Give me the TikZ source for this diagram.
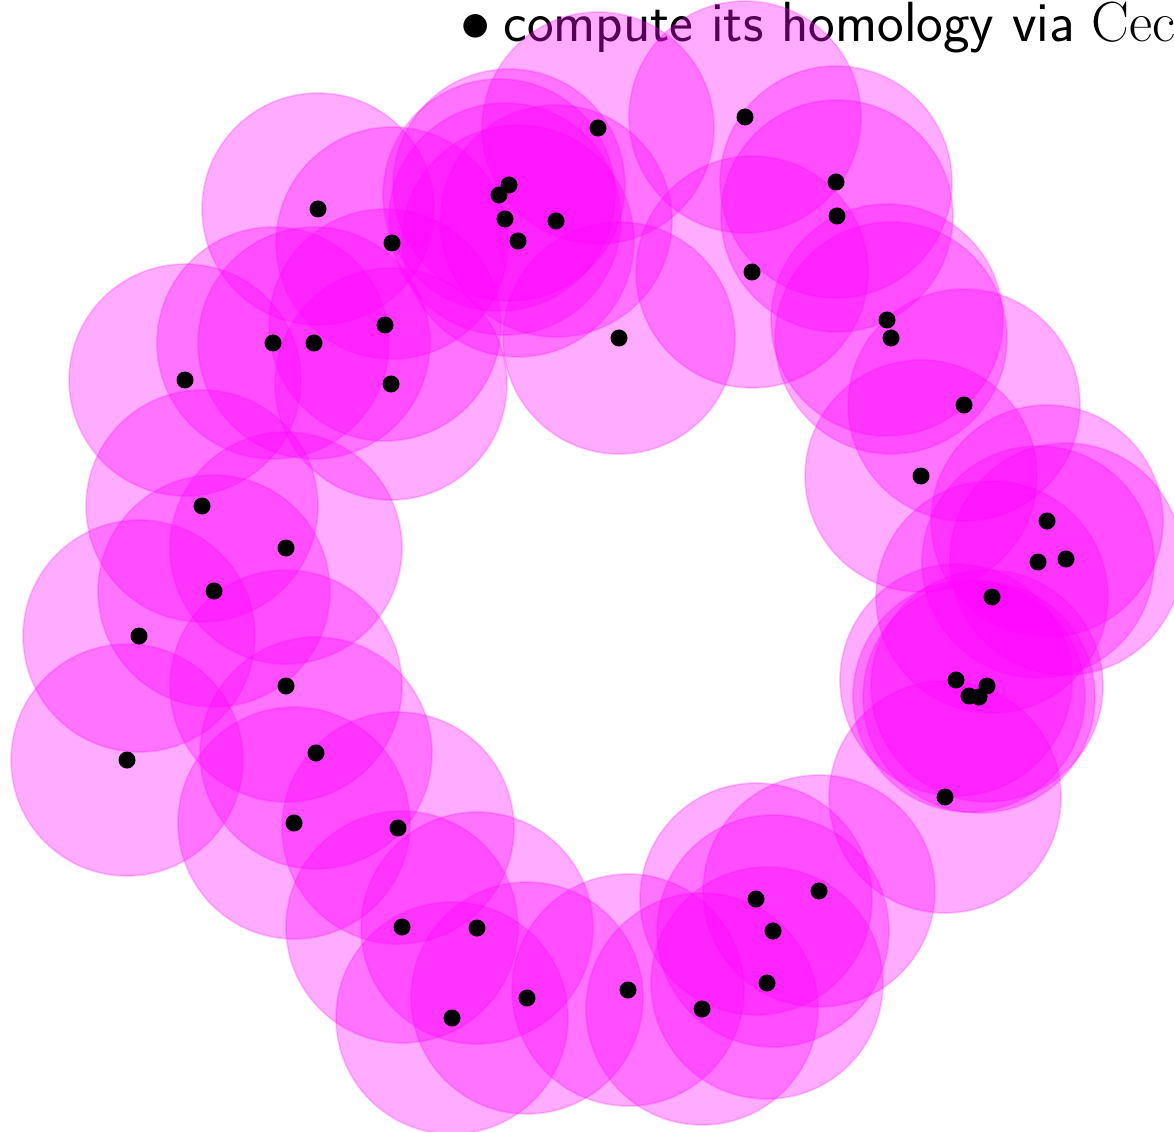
\documentclass[tikz,border=0pt]{standalone}
\definecolor{mag}{RGB}{255,0,255}
\begin{document}
\begin{tikzpicture}[x=0.01cm,y=-0.01cm,
  ball/.style={fill=mag,fill opacity=0.33,draw=mag,draw opacity=0.2,line width=0.5pt},
  pt/.style={fill=black}]
\useasboundingbox (0,0) rectangle (1174,1131);
\clip (0,0) rectangle (1174,1131);
\node[anchor=base west,inner sep=0pt,font=\fontsize{16.1}{19}\selectfont] (txt) at (460,42)
  {$\bullet$\hspace{3.5pt}\textsf{compute its homology via} \v{C}ech};
\def\pts{598/128,745/117,509/185,499/195,318/209,505/219,556/221,836/182,837/216,392/243,
518/241,752/272,887/320,891/338,385/325,273/343,314/343,619/338,185/380,391/384,
964/405,921/476,202/506,286/548,1047/521,1038/562,1066/559,214/591,992/597,139/636,
286/686,956/680,987/686,969/696,979/697,316/753,127/760,945/797,294/823,398/828,
819/891,756/899,773/931,402/927,477/928,767/983,628/990,527/998,702/1009,452/1018}
\foreach \x/\y in \pts { \path[ball] (\x,\y) circle (116); }
\foreach \x/\y in \pts { \path[pt] (\x,\y) circle (8.5); }
\end{tikzpicture}
\end{document}
